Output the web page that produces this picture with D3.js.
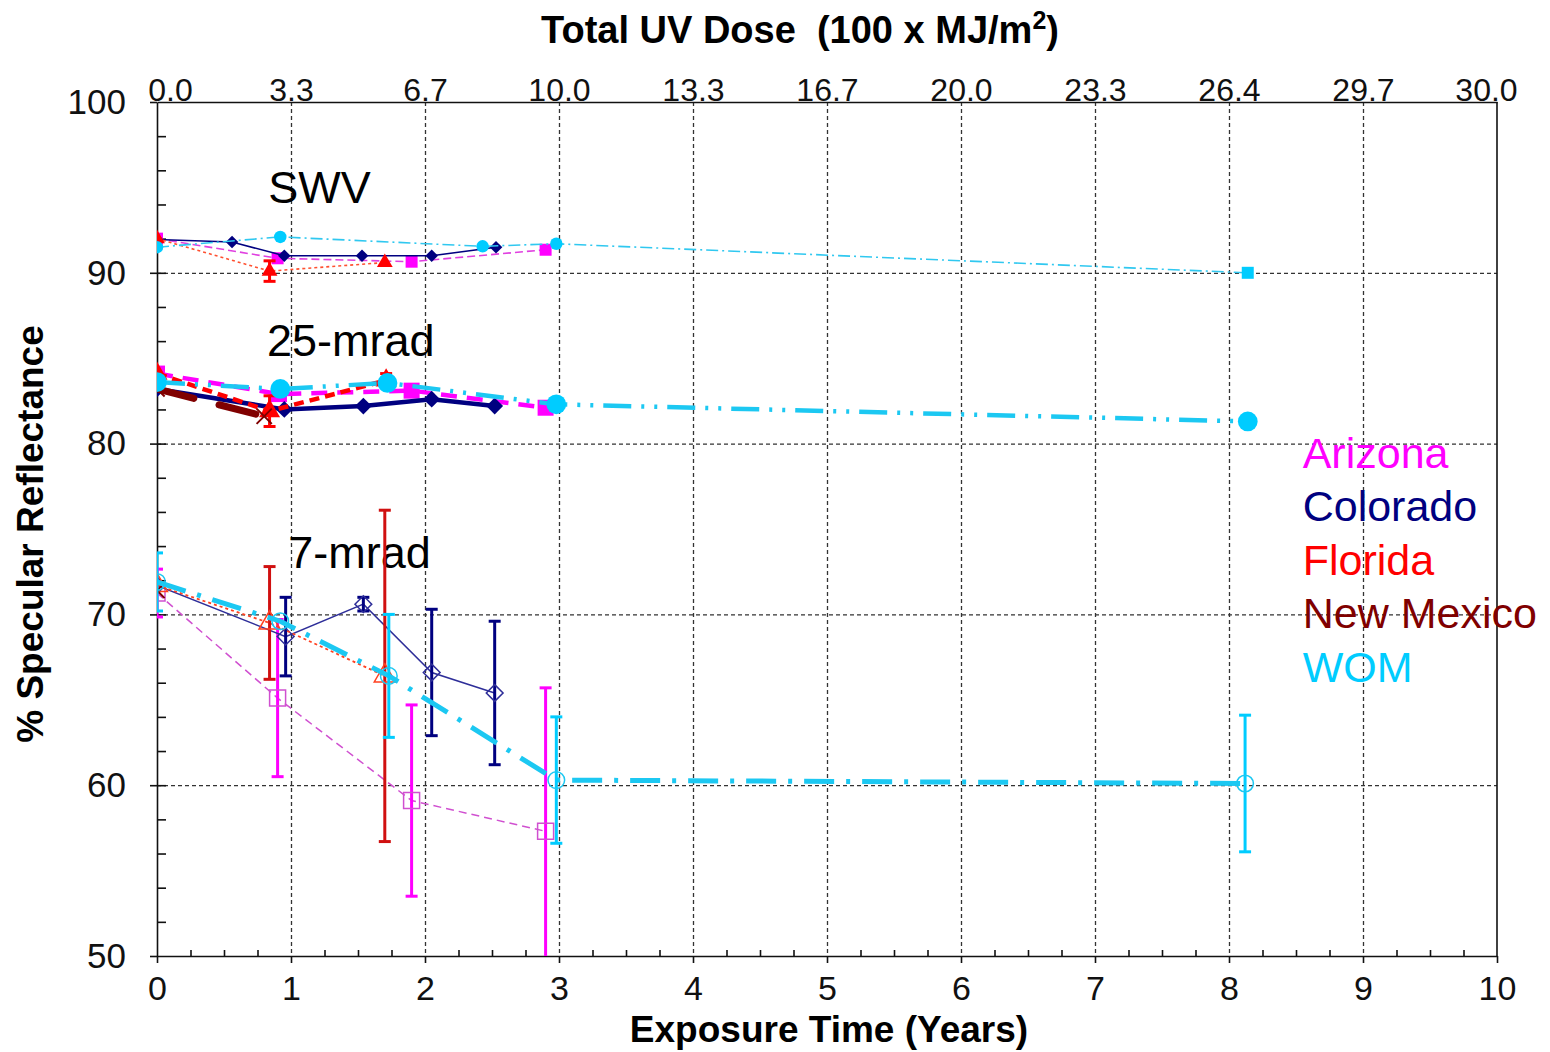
<!DOCTYPE html>
<html>
<head>
<meta charset="utf-8">
<script src="https://cdn.jsdelivr.net/npm/d3@7"></script>
<style>
  body { margin: 0; background: #fff; }
  svg { font-family: "Liberation Sans", Arial, sans-serif; }
  .grid line { stroke: #333; stroke-dasharray: 4,3; stroke-width: 1.3; }
  .grid path { display: none; }
  .axis path, .axis line { stroke: #111; stroke-width: 1.6; }
  .axis text { fill: #111; }
</style>
</head>
<body>
<div id="chart-area"></div>
<script>
// exposure time ticks and the UV-dose labels on the top axis
let yearTicks = d3.range(0, 11);
let doseLabels = ['0.0', '3.3', '6.7', '10.0', '13.3', '16.7', '20.0', '23.3', '26.4', '29.7', '30.0'];
let reflTicks = [50, 60, 70, 80, 90, 100];
let sites = ['Arizona', 'Colorado', 'Florida', 'New Mexico', 'WOM'];

// SWV (filled small markers)
let swvAzT = [0, 0.90, 1.90, 2.90];
let swvAzV = [92.0, 90.85, 90.65, 91.35];
let swvCoT = [0, 0.56, 0.95, 1.53, 2.05, 2.53];
let swvCoV = [91.95, 91.8, 91.0, 91.0, 91.0, 91.5];
let swvFlT = [0, 0.84, 1.70];
let swvFlV = [92.0, 90.1, 90.6];
let swvFlE = [0, 0.6, 0];
let swvWoT = [0, 0.92, 2.43, 2.98, 8.14];
let swvWoV = [91.5, 92.1, 91.55, 91.7, 90.0];

// 25-mrad (filled large markers, thick lines)
let m25AzT = [0, 0.91, 1.90, 2.90];
let m25AzV = [84.1, 82.9, 83.1, 82.1];
let m25CoT = [0, 0.95, 1.54, 2.05, 2.52];
let m25CoV = [83.2, 82.0, 82.2, 82.6, 82.2];
let m25FlT = [0, 0.84, 1.71];
let m25FlV = [84.1, 81.9, 83.7];
let m25FlE = [0, 0.9, 0.4];
let m25NmT = [0, 0.80];
let m25NmV = [83.2, 81.6];
let m25WoT = [0, 0.92, 1.72, 2.98, 8.14];
let m25WoV = [83.6, 83.2, 83.55, 82.3, 81.3];

// 7-mrad (open markers, error bars)
let m7AzT = [0, 0.90, 1.90, 2.90];
let m7AzV = [71.25, 65.1, 59.1, 57.3];
let m7AzE = [1.4, 4.6, 5.6, 8.4];
let m7CoT = [0, 0.96, 1.54, 2.05, 2.52];
let m7CoV = [71.7, 68.7, 70.6, 66.6, 65.4];
let m7CoE = [0, 2.3, 0.4, 3.7, 4.2];
let m7FlT = [0, 0.84, 1.70];
let m7FlV = [71.7, 69.5, 66.4];
let m7FlE = [0, 3.3, 9.7];
let m7NmT = [0];
let m7NmV = [71.4];
let m7WoT = [0, 0.92, 1.73, 2.98, 8.12];
let m7WoV = [71.9, 69.6, 66.4, 60.3, 60.1];
let m7WoE = [1.7, 0, 3.6, 3.7, 4.0];

let colors = { 'Arizona': '#ff00ff', 'Colorado': '#000080', 'Florida': '#ff0000', 'New Mexico': '#800000', 'WOM': '#00ccff' };

let margin = { left: 157, right: 53, top: 102, bottom: 96 };
let width = 1550 - margin.left - margin.right;
let height = 1052 - margin.top - margin.bottom;

let svg = d3.select('#chart-area').append('svg')
  .attr('width', 1550)
  .attr('height', 1052);

let g = svg.append('g')
  .attr('transform', `translate(${margin.left}, ${margin.top})`);

let x = d3.scaleLinear().domain([0, 10]).range([0, width]);
let y = d3.scaleLinear().domain([50, 100]).range([height, 0]);

// grid
g.append('g').attr('class', 'grid')
  .call(d3.axisTop(x).tickValues(d3.range(1, 10)).tickSize(-height).tickFormat(''));
g.append('g').attr('class', 'grid')
  .call(d3.axisLeft(y).tickValues([60, 70, 80, 90]).tickSize(-width).tickFormat(''));

// axes
let leftAxis = d3.axisLeft(y).tickValues(reflTicks).tickSize(7).tickSizeOuter(0).tickPadding(24);
g.append('g').attr('class', 'axis').call(leftAxis)
  .selectAll('text').style('font-size', '35px');
g.append('g').attr('class', 'axis')
  .call(d3.axisLeft(y).tickValues(d3.range(52, 100, 2)).tickSize(-9).tickFormat(''))
  .select('.domain').remove();

let bottomAxis = d3.axisBottom(x).tickValues(yearTicks).tickSize(7).tickSizeOuter(0).tickPadding(13);
g.append('g').attr('class', 'axis')
  .attr('transform', `translate(0, ${height})`)
  .call(bottomAxis)
  .selectAll('text').style('font-size', '34px');
g.append('g').attr('class', 'axis')
  .attr('transform', `translate(0, ${height})`)
  .call(d3.axisBottom(x).tickValues(d3.range(0.25, 10, 0.25).filter(d => d % 1 !== 0)).tickSize(-6).tickFormat(''))
  .select('.domain').remove();

let topAxis = d3.axisTop(x).tickValues(yearTicks).tickSize(0).tickSizeOuter(0).tickPadding(1)
  .tickFormat((d, i) => doseLabels[i]);
g.append('g').attr('class', 'axis')
  .call(topAxis)
  .selectAll('text')
    .style('font-size', '32px')
    .attr('dy', '0')
    // first and last labels sit a bit inside the frame
    .attr('dx', (d, i) => i === 0 ? 13 : (i === doseLabels.length - 1 ? -11 : 0));

g.append('line').attr('class', 'axis')
  .attr('x1', width).attr('x2', width).attr('y1', 0).attr('y2', height)
  .attr('stroke', '#111').attr('stroke-width', 1.6);

// titles
svg.append('text').attr('x', 800).attr('y', 43).attr('text-anchor', 'middle')
  .style('font-size', '38px').style('font-weight', 'bold')
  .html('Total UV Dose&#160;&#160;(100 x MJ/m<tspan dy="-14" font-size="25">2</tspan><tspan dy="14">)</tspan>');
svg.append('text').attr('x', 829).attr('y', 1042).attr('text-anchor', 'middle')
  .style('font-size', '37px').style('font-weight', 'bold')
  .text('Exposure Time (Years)');
svg.append('text').attr('transform', 'translate(43, 534) rotate(-90)').attr('text-anchor', 'middle')
  .style('font-size', '37px').style('font-weight', 'bold')
  .text('% Specular Reflectance');

// group labels
let groupLabels = [
  { text: 'SWV', t: 0.83, v: 94.1 },
  { text: '25-mrad', t: 0.82, v: 85.1 },
  { text: '7-mrad', t: 0.98, v: 72.7 }
];
g.selectAll('.glabel').data(groupLabels).enter().append('text')
  .attr('x', d => x(d.t)).attr('y', d => y(d.v))
  .style('font-size', '45px').attr('fill', '#000')
  .text(d => d.text);

// legend
g.selectAll('.legend').data(sites).enter().append('text')
  .attr('x', x(8.55)).attr('y', (d, i) => y(78.6 - i * 3.14))
  .style('font-size', '43px')
  .attr('fill', d => colors[d])
  .text(d => d);

// series
function build(group, site, t, v, e) {
  return { group: group, site: site, pts: t.map((d, i) => ({ t: d, v: v[i], e: e ? e[i] : 0 })) };
}
let series = [
  build('swv', 'Arizona', swvAzT, swvAzV), build('swv', 'Colorado', swvCoT, swvCoV),
  build('swv', 'Florida', swvFlT, swvFlV, swvFlE), build('swv', 'WOM', swvWoT, swvWoV),
  build('m25', 'Arizona', m25AzT, m25AzV), build('m25', 'Colorado', m25CoT, m25CoV),
  build('m25', 'Florida', m25FlT, m25FlV, m25FlE), build('m25', 'New Mexico', m25NmT, m25NmV),
  build('m25', 'WOM', m25WoT, m25WoV),
  build('m7', 'Arizona', m7AzT, m7AzV, m7AzE), build('m7', 'Colorado', m7CoT, m7CoV, m7CoE),
  build('m7', 'Florida', m7FlT, m7FlV, m7FlE), build('m7', 'New Mexico', m7NmT, m7NmV),
  build('m7', 'WOM', m7WoT, m7WoV, m7WoE)
];

let lineStyle = {
  'swv': {
    'Arizona': { c: '#e040e0', w: 1.6, dash: '8,4' },
    'Colorado': { c: '#000080', w: 1.6, dash: null },
    'Florida': { c: '#ff5030', w: 1.6, dash: '3,3' },
    'WOM': { c: '#30c8f0', w: 1.6, dash: '12,4,2,4' }
  },
  'm25': {
    'Arizona': { c: '#ff00ff', w: 4.5, dash: '16,10' },
    'Colorado': { c: '#000080', w: 4.5, dash: null },
    'Florida': { c: '#ff0000', w: 4.5, dash: '10,6' },
    'New Mexico': { c: '#800000', w: 7, dash: '38,26' },
    'WOM': { c: '#1cc8f2', w: 4.5, dash: '28,10,3,10,3,10' }
  },
  'm7': {
    'Arizona': { c: '#d050d0', w: 1.5, dash: '8,5' },
    'Colorado': { c: '#2e2e99', w: 1.5, dash: null },
    'Florida': { c: '#ff4020', w: 1.8, dash: '3,3' },
    'WOM': { c: '#1cc8f2', w: 5, dash: '30,12,4,12' }
  }
};
let markerShape = { 'Arizona': 'square', 'Colorado': 'diamond', 'Florida': 'triangle', 'New Mexico': 'x', 'WOM': 'circle' };
let markerSize = { 'swv': 12, 'm25': 16, 'm7': 16 };

svg.append('defs').append('clipPath').attr('id', 'plot')
  .append('rect').attr('width', width).attr('height', height);
let plot = g.append('g').attr('clip-path', 'url(#plot)');

let line = d3.line().x(d => x(d.t)).y(d => y(d.v));

function shapePath(shape, s) {
  if (shape === 'square') return d3.symbol(d3.symbolSquare, s * s)();
  if (shape === 'diamond') return d3.symbol(d3.symbolSquare, s * s * 0.55)();
  if (shape === 'triangle') return d3.symbol(d3.symbolTriangle, s * s * 0.75)();
  if (shape === 'circle') return d3.symbol(d3.symbolCircle, s * s * 0.85)();
  return d3.symbol(d3.symbolTimes || d3.symbolCross, s * s * 0.6)();
}

series.forEach(function(sr) {
  let st = lineStyle[sr.group][sr.site];
  let col = colors[sr.site];
  let sg = plot.append('g');

  if (st && sr.pts.length > 1) {
    sg.append('path').datum(sr.pts)
      .attr('d', line)
      .attr('fill', 'none')
      .attr('stroke', st.c)
      .attr('stroke-width', st.w)
      .attr('stroke-dasharray', st.dash)
      .attr('stroke-linecap', sr.site === 'New Mexico' ? 'round' : 'butt');
  }

  // error bars
  let eb = sg.selectAll('.eb').data(sr.pts.filter(d => d.e > 0)).enter().append('g');
  let ecol = sr.site === 'Florida' && sr.group === 'm7' ? '#d01010' : col;
  eb.append('line')
    .attr('x1', d => x(d.t)).attr('x2', d => x(d.t))
    .attr('y1', d => y(d.v + d.e)).attr('y2', d => y(d.v - d.e))
    .attr('stroke', ecol).attr('stroke-width', 3);
  [1, -1].forEach(function(sign) {
    eb.append('line')
      .attr('x1', d => x(d.t) - 6).attr('x2', d => x(d.t) + 6)
      .attr('y1', d => y(d.v + sign * d.e)).attr('y2', d => y(d.v + sign * d.e))
      .attr('stroke', ecol).attr('stroke-width', 3);
  });

  // markers
  let shape = markerShape[sr.site];
  let s = markerSize[sr.group];
  let open = sr.group === 'm7';
  sg.selectAll('.mk').data(sr.pts).enter().append('path')
    .attr('transform', function(d) {
      let r = shape === 'diamond' ? ' rotate(45)' : '';
      return `translate(${x(d.t)}, ${y(d.v)})` + r;
    })
    .attr('d', function(d, i) {
      // the last SWV WOM point is drawn as a square in the original
      if (sr.group === 'swv' && sr.site === 'WOM' && i === sr.pts.length - 1) return shapePath('square', s);
      return shapePath(shape, sr.group === 'm25' && shape === 'circle' ? 19 : s);
    })
    .attr('fill', shape === 'x' ? 'none' : (open ? 'none' : col))
    .attr('stroke', open || shape === 'x' ? (st ? st.c : col) : 'none')
    .attr('stroke-width', shape === 'x' ? 2 : 1.5);
});
</script>
</body>
</html>
